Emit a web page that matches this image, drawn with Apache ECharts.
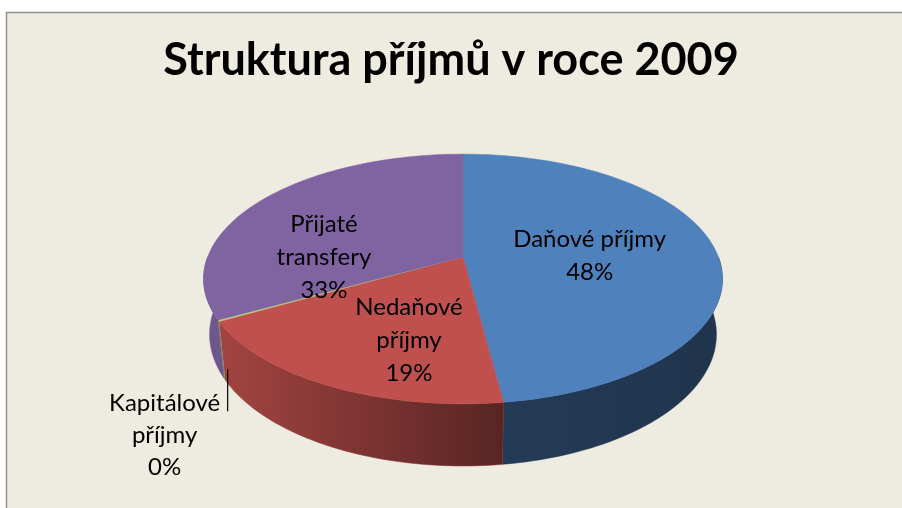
<!DOCTYPE html>
<html>
<head>
<meta charset="utf-8">
<title>Struktura příjmů v roce 2009</title>
<script src="https://cdn.jsdelivr.net/npm/echarts@6/dist/echarts.min.js"></script>
<style>
  html, body { margin: 0; padding: 0; background: #ffffff; }
  #chart { width: 902px; height: 508px; }
</style>
</head>
<body>
<div id="chart"></div>
<script>
// data
var categories = ['Daňové příjmy', 'Nedaňové příjmy', 'Kapitálové příjmy', 'Přijaté transfery'];
var labelNames = ['Daňové příjmy', 'Nedaňové\npříjmy', 'Kapitálové\npříjmy', 'Přijaté\ntransfery'];
var values = [48, 19, 0.2, 33];

// look
var colors = ['#4F81BD', '#C0504D', '#9BBB59', '#8064A2'];
var labelOffsets = [[0, 3], [8, 25], [0, 0], [-34, 30]];
var fontFamily = 'Lato, "Noto Sans", sans-serif';

// fake 3d camera (perspective disc)
var cam = { cx: 463, cy: 257, f: 1295, fx: 0.99, d: 5.02, sa: 0.469, ca: 0.883, h: 0.246 };
var shadeTable = [[90, 0.40], [173, 0.46], [241, 0.85], [270, 0.88]];

var total = values.reduce(function (a, b) { return a + b; }, 0);
var starts = [];
var acc = 0;
values.forEach(function (v) { starts.push(acc / total * 360); acc += v; });

function rad(deg) { return deg * Math.PI / 180; }

function proj(r, deg, h) {
  var X = r * Math.sin(rad(deg));
  var Z = -r * Math.cos(rad(deg));
  var w = cam.d - Z * cam.ca + h * cam.sa;
  return [cam.cx + cam.fx * cam.f * X / w, cam.cy + cam.f * (Z * cam.sa + h * cam.ca) / w];
}

function arc(a, b, h) {
  var n = Math.max(2, Math.ceil(Math.abs(b - a) / 1.5));
  var pts = [];
  for (var k = 0; k <= n; k++) pts.push(proj(1, a + (b - a) * k / n, h));
  return pts;
}

function shadeAt(deg) {
  for (var k = 1; k < shadeTable.length; k++) {
    if (deg <= shadeTable[k][0]) {
      var p = shadeTable[k - 1], q = shadeTable[k];
      return p[1] + (q[1] - p[1]) * (deg - p[0]) / (q[0] - p[0]);
    }
  }
  return shadeTable[shadeTable.length - 1][1];
}

function darken(hex, f) {
  var n = parseInt(hex.slice(1), 16);
  var r = Math.round(((n >> 16) & 255) * f);
  var g = Math.round(((n >> 8) & 255) * f);
  var b = Math.round((n & 255) * f);
  return 'rgb(' + r + ',' + g + ',' + b + ')';
}

var chart = echarts.init(document.getElementById('chart'));

var option = {
  animation: false,
  backgroundColor: '#ffffff',
  graphic: [{
    type: 'rect',
    shape: { x: 6.5, y: 12.5, width: 1000, height: 600 },
    style: { fill: '#EEECE1', stroke: '#8E8E8E', lineWidth: 1.5 },
    z: -10
  }],
  title: {
    text: 'Struktura příjmů v roce 2009',
    left: 'center',
    top: 33,
    textStyle: { fontFamily: fontFamily, fontWeight: 'bold', fontSize: 45, color: '#000000' }
  },
  series: [{
    type: 'custom',
    coordinateSystem: 'none',
    data: values.map(function (v, i) { return { name: categories[i], value: v }; }),
    renderItem: function (params, api) {
      var i = params.dataIndex;
      var a = starts[i];
      var b = a + api.value(0) / total * 360;
      var pct = Math.round(api.value(0) / total * 100);
      var tiny = api.value(0) / total < 0.01;
      var children = [];

      // top face
      children.push({
        type: 'polygon',
        z2: tiny ? 11 : 10,
        shape: { points: [proj(0, 0, 0)].concat(arc(a, b, 0)) },
        style: { fill: colors[i], stroke: tiny ? null : colors[i], lineWidth: 0.5, opacity: tiny ? 0.6 : 1 }
      });

      // front wall
      var wa = Math.max(a, 90), wb = Math.min(b, 270);
      if (wb > wa) {
        var pts = arc(wa, wb, 0).concat(arc(wb, wa, cam.h));
        children.push({
          type: 'polygon',
          z2: 1,
          shape: { points: pts },
          style: {
            fill: new echarts.graphic.LinearGradient(0, 0, 1, 0, [
              { offset: 0, color: darken(colors[i], shadeAt(wb)) },
              { offset: 1, color: darken(colors[i], shadeAt(wa)) }
            ]),
            stroke: tiny ? null : darken(colors[i], shadeAt((wa + wb) / 2)),
            lineWidth: 0.5
          }
        });
      }

      var mid = (a + b) / 2;
      var text = labelNames[i] + '\n' + pct + '%';
      if (tiny) {
        // tiny slice: label outside with leader line
        var anc = proj(1, mid, cam.h);
        children.push({
          type: 'line',
          z2: 20,
          shape: { x1: anc[0] + 3, y1: anc[1] - 10, x2: anc[0] + 3, y2: anc[1] + 32 },
          style: { stroke: '#000000', lineWidth: 1.2 }
        });
        children.push({
          type: 'text',
          z2: 20,
          style: {
            text: text, x: anc[0] - 60, y: anc[1] + 8,
            fill: '#000000', fontFamily: fontFamily, fontSize: 24,
            align: 'center', verticalAlign: 'top', lineHeight: 32
          }
        });
      } else {
        var c = proj(0.5, mid, 0);
        children.push({
          type: 'text',
          z2: 20,
          style: {
            text: text, x: c[0] + labelOffsets[i][0], y: c[1] + labelOffsets[i][1],
            fill: '#000000', fontFamily: fontFamily, fontSize: 24,
            align: 'center', verticalAlign: 'middle', lineHeight: 33
          }
        });
      }
      return { type: 'group', children: children };
    }
  }]
};

chart.setOption(option);
</script>
</body>
</html>
